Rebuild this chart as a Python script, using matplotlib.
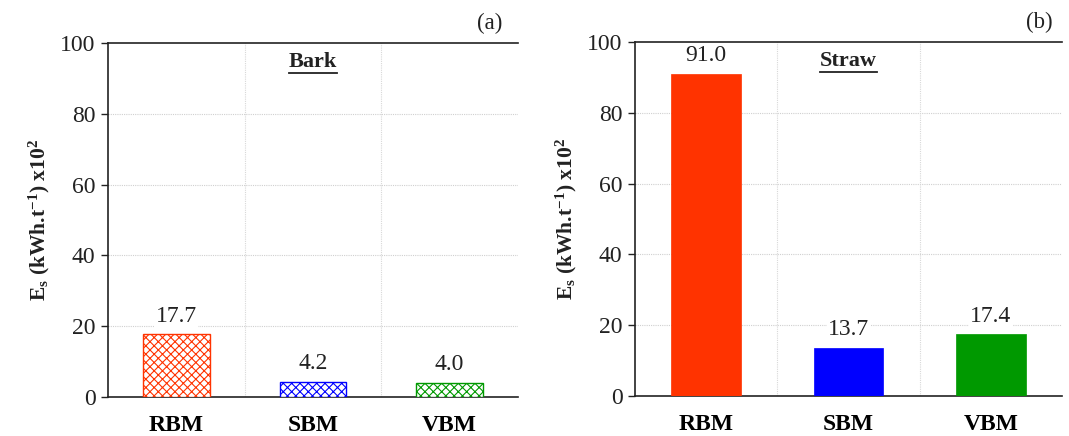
import matplotlib
matplotlib.use("Agg")
import matplotlib.pyplot as plt
import numpy as np

plt.rcParams['font.family'] = ['Liberation Serif', 'DejaVu Serif']
plt.rcParams['mathtext.fontset'] = 'custom'
plt.rcParams['mathtext.rm'] = 'Liberation Serif'
plt.rcParams['mathtext.bf'] = 'Liberation Serif:bold'
plt.rcParams['mathtext.it'] = 'Liberation Serif:italic'
plt.rcParams['hatch.linewidth'] = 0.8

categories = ["RBM", "SBM", "VBM"]
bark_values = [17.7, 4.2, 4.0]
straw_values = [91.0, 13.7, 17.4]
bar_colors = ["#FF3300", "#0000FF", "#009900"]
panel_titles = ["Bark", "Straw"]
panel_tags = ["(a)", "(b)"]
y_ticks = [0, 20, 40, 60, 80, 100]

fig = plt.figure(figsize=(10.69, 4.36), dpi=100)
W, H = 1069, 436
ax_a = fig.add_axes([108 / W, 1 - 397 / H, (518 - 108) / W, (397 - 43) / H])
ax_b = fig.add_axes([635 / W, 1 - 396 / H, (1062 - 635) / W, (396 - 42) / H])

x = np.arange(len(categories))
ylabel = r"E$_\mathbf{s}$ (kWh.t$^\mathbf{-1}$) x10$^\mathbf{2}$"

for ax, vals, title, tag, tagx, hatched in [
    (ax_a, bark_values, panel_titles[0], panel_tags[0], 0.963, True),
    (ax_b, straw_values, panel_titles[1], panel_tags[1], 0.979, False),
]:
    ax.set_xlim(-0.5, 2.5)
    ax.set_ylim(0, 100)
    for xi, v, c in zip(x, vals, bar_colors):
        if hatched:
            ax.bar(xi, v, width=0.49, facecolor="white", edgecolor=c,
                   hatch="xxxx", linewidth=1.0, zorder=3)
        else:
            ax.bar(xi, v, width=0.49, facecolor=c, edgecolor=c,
                   linewidth=0.5, zorder=3)
        ax.text(xi, v + 2.2, f"{v:.1f}", ha="center", va="bottom",
                fontsize=17, color="#222222", zorder=4,
                bbox=dict(facecolor="white", edgecolor="none", pad=1))
    ax.set_yticks(y_ticks)
    ax.set_yticklabels([str(t) for t in y_ticks], fontsize=17)
    ax.set_xticks(x)
    ax.set_xticklabels(categories, fontsize=17, fontweight="bold")
    ax.tick_params(axis="x", length=0, pad=13)
    ax.tick_params(axis="y", direction="out", length=5, width=1, pad=4,
                   colors="#222222")
    for yv in y_ticks[1:-1]:
        ax.axhline(yv, color="#d0d0d0", linestyle=(0, (1, 1)), linewidth=0.8, zorder=1)
    for xv in [0.5, 1.5]:
        ax.axvline(xv, color="#d8d8d8", linestyle=(0, (1, 1)), linewidth=0.8, zorder=1)
    ax.spines["right"].set_visible(False)
    for s in ["top", "left", "bottom"]:
        ax.spines[s].set_color("#222222")
        ax.spines[s].set_linewidth(1.2)
    ax.set_ylabel(ylabel, fontsize=15.5, fontweight="bold", labelpad=6,
                  color="#222222")
    ax.text(1, 94.5, title, ha="center", va="center", fontsize=16,
            fontweight="bold", color="#222222", zorder=4)
    ax.text(tagx, 1.025, tag, transform=ax.transAxes, ha="right", va="bottom",
            fontsize=16.5, color="#222222")

fig.canvas.draw()
renderer = fig.canvas.get_renderer()
inv = fig.transFigure.inverted()
for ax in [ax_a, ax_b]:
    for t in ax.texts:
        if t.get_text() in panel_titles:
            bb = t.get_window_extent(renderer)
            (x0, y0), (x1, y1) = inv.transform([(bb.x0, bb.y0), (bb.x1, bb.y0)])
            fig.add_artist(plt.Line2D([x0, x1], [y0 - 0.002, y0 - 0.002],
                                      transform=fig.transFigure,
                                      color="#222222", linewidth=1.3))

fig.savefig("out.png", dpi=100)
